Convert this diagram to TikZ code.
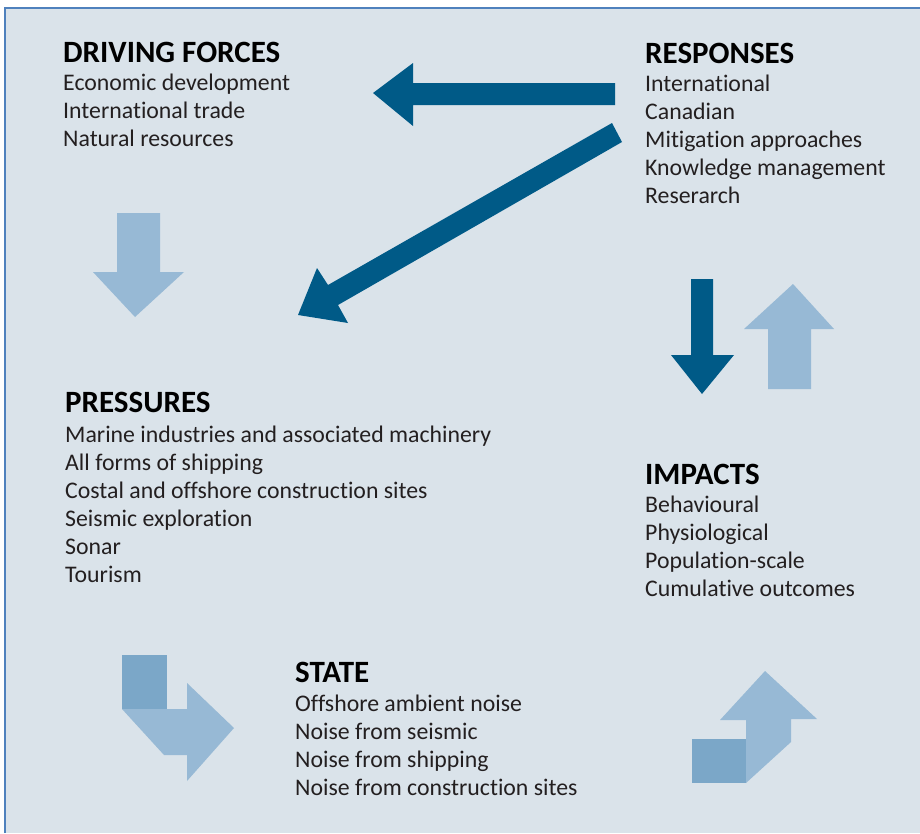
\documentclass[tikz,border=0pt]{standalone}
\usepackage{fontspec}
\setmainfont{Carlito}[Ligatures=NoCommon]
\definecolor{bgc}{HTML}{DAE3EA}
\definecolor{framec}{HTML}{4F81BD}
\definecolor{darkarrow}{HTML}{005A87}
\definecolor{lightarrow}{HTML}{97B9D5}
\definecolor{midbox}{HTML}{7BA7C8}
\definecolor{txt}{HTML}{231F20}
\tikzset{
  headtxt/.style={anchor=base west, inner sep=0pt, font=\fontsize{31}{34}\selectfont\bfseries, text=black},
  bodytxt/.style={anchor=base west, inner sep=0pt, font=\fontsize{23.8}{28}\selectfont, text=txt},
  darkfill/.style={fill=darkarrow, draw=none},
  lightfill/.style={fill=lightarrow, draw=none},
  boxfill/.style={fill=midbox, draw=none}
}
\begin{document}
\begin{tikzpicture}[x=1pt,y=-1pt]
\useasboundingbox (0,0) rectangle (920,833);
\fill[white] (0,0) rectangle (920,833);
\fill[bgc] (5,8) rectangle (920,833);
\draw[framec, line width=2pt] (5,833) -- (5,8) -- (920,8);

% DRIVING FORCES
\node[headtxt] (dfh) at (63,62) {DRIVING FORCES};
\foreach \t [count=\i] in {Economic development, International trade, Natural resources}
  \node[bodytxt] (df\i) at (63,{90+28*(\i-1)}) {\t};

% RESPONSES
\node[headtxt] (rsh) at (645,63) {RESPONSES};
\foreach \t [count=\i] in {International, Canadian, Mitigation approaches, Knowledge management, Reserarch}
  \node[bodytxt] (rs\i) at (645,{91+28*(\i-1)}) {\t};

% PRESSURES
\node[headtxt] (prh) at (65,412) {PRESSURES};
\foreach \t [count=\i] in {Marine industries and associated machinery, All forms of shipping, Costal and offshore construction sites, Seismic exploration, Sonar, Tourism}
  \node[bodytxt] (pr\i) at (65,{442+28*(\i-1)}) {\t};

% IMPACTS
\node[headtxt] (imh) at (645,484) {IMPACTS};
\foreach \t [count=\i] in {Behavioural, Physiological, Population-scale, Cumulative outcomes}
  \node[bodytxt] (im\i) at (645,{512+28*(\i-1)}) {\t};

% STATE
\node[headtxt] (sth) at (295,682) {STATE};
\foreach \t [count=\i] in {Offshore ambient noise, Noise from seismic, Noise from shipping, Noise from construction sites}
  \node[bodytxt] (st\i) at (295,{711+28*(\i-1)}) {\t};

% Responses -> Driving forces (dark, left)
\fill[darkfill] (615,83) -- (413,83) -- (413,63) -- (373,93) -- (413,126) -- (413,105) -- (615,105) -- cycle;

% Responses -> Pressures (dark, diagonal)
\fill[darkfill] (612,123) -- (622,142) -- (338,305) -- (348,323) -- (298,315) -- (317,268) -- (328,285) -- cycle;

% Driving forces -> Pressures (light, down)
\fill[lightfill] (117,213) -- (160,213) -- (160,272) -- (184,272) -- (135,317) -- (93,272) -- (117,272) -- cycle;

% Responses -> Impacts (dark, down)
\fill[darkfill] (691,279) -- (713,279) -- (713,355) -- (734,355) -- (702,394) -- (671,355) -- (691,355) -- cycle;

% Impacts -> Responses (light, up)
\fill[lightfill] (768,389) -- (811,389) -- (811,329) -- (834,329) -- (793,284) -- (744,329) -- (768,329) -- cycle;

% Pressures -> State (bent)
\fill[lightfill] (122,709) -- (187,709) -- (187,683) -- (234,728) -- (187,781) -- (187,755) -- (164,755) -- cycle;
\fill[boxfill] (122,655) rectangle (167,709);

% State -> Impacts (bent)
\fill[lightfill] (746,783) -- (746,720) -- (720,720) -- (765,671) -- (817,719) -- (791,719) -- (791,742) -- cycle;
\fill[boxfill] (692,739) rectangle (746,783);
\end{tikzpicture}
\end{document}
